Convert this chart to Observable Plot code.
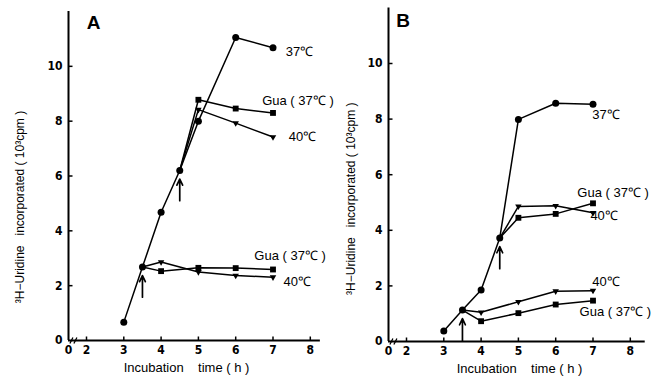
<!DOCTYPE html>
<html><head><meta charset="utf-8">
<script src="https://cdn.jsdelivr.net/npm/d3@7"></script>
<script src="https://cdn.jsdelivr.net/npm/@observablehq/plot@0.6"></script>
<style>
body{margin:0;background:#fff;}
#wrap{display:flex;width:657px;height:381px;overflow:hidden;background:#fff;}
#wrap svg{flex:none;overflow:visible;}
</style></head><body><div id="wrap"></div>
<script>
// shared categories / ticks
const hours = [3, 3.5, 4, 4.5, 5, 6, 7];
const upperHours = [4.5, 5, 6, 7];
const lowerHours = [3.5, 4, 5, 6, 7];
const arrowHours = [3.5, 4.5];
const xTicks = [0, 2, 3, 4, 5, 6, 7, 8];
const yTicks = [0, 2, 4, 6, 8, 10];
const xTitle = "Incubation\u00a0\u00a0\u00a0\u00a0time ( h )";
const yTitle = "\u00b3H\u2212Uridine\u00a0\u00a0\u00a0incorporated ( 10\u00b3cpm )";

// Panel A values (10^3 cpm)
const a37 = [0.67, 2.68, 4.68, 6.2, 8.0, 11.05, 10.68];
const aGuaUpper = [6.2, 8.78, 8.46, 8.30];
const a40Upper = [6.2, 8.42, 7.93, 7.42];
const aGuaLower = [2.68, 2.53, 2.65, 2.64, 2.59];
const a40Lower = [2.68, 2.86, 2.5, 2.37, 2.31];
const aLabelText = ["37\u2103", "Gua ( 37\u2103 )", "40\u2103", "Gua ( 37\u2103 )", "40\u2103"];
const aLabelX = [7.34, 6.71, 7.42, 6.5, 7.28];
const aLabelY = [10.52, 8.76, 7.42, 3.1, 2.15];

// Panel B values (10^3 cpm)
const b37 = [0.38, 1.13, 1.85, 3.72, 7.99, 8.57, 8.53];
const bGuaUpper = [3.72, 4.45, 4.59, 4.97];
const b40Upper = [3.72, 4.86, 4.88, 4.63];
const bGuaLower = [1.13, 0.73, 1.02, 1.33, 1.47];
const b40Lower = [1.13, 1.05, 1.43, 1.81, 1.83];
const bLabelText = ["37\u2103", "Gua ( 37\u2103 )", "40\u2103", "40\u2103", "Gua ( 37\u2103 )"];
const bLabelX = [6.98, 6.58, 6.93, 6.98, 6.64];
const bLabelY = [8.17, 5.36, 4.53, 2.16, 1.08];

const tickRight = {draw(ctx) { ctx.moveTo(0, 0); ctx.lineTo(4, 0); }};
const tickUp = {draw(ctx) { ctx.moveTo(0, 0); ctx.lineTo(0, -4); }};
const breakMark = {draw(ctx) { ctx.moveTo(-4, 3); ctx.lineTo(-1, -3); ctx.moveTo(0, 3); ctx.lineTo(3, -3); }};
const txtFont = "'Liberation Sans', Arial, sans-serif";
const tickFont = "'DejaVu Sans Condensed', 'DejaVu Sans', sans-serif";

function pts(xs, ys) { return xs.map((x, i) => ({x, y: ys[i]})); }

function panel(o) {
  const s37 = pts(hours, o.c37);
  const gU = pts(upperHours, o.guaU), fU = pts(upperHours, o.fortyU);
  const gL = pts(lowerHours, o.guaL), fL = pts(lowerHours, o.fortyL);
  const squares = [...gU.slice(1), ...gL.slice(1)];
  const tris = [...fU.slice(1), ...fL.slice(1)];
  const arrows = arrowHours.map(h => ({x: h, y: o.c37[hours.indexOf(h)]}));
  const labels = o.labelText.map((t, i) => ({t, x: o.labelX[i], y: o.labelY[i]}));
  const line = {x: "x", y: "y", stroke: "black", strokeWidth: 1.5};
  const tickText = {fontFamily: tickFont, fontWeight: "bold", fontSize: 12, fontStretch: "condensed", fill: "black"};
  return Plot.plot({
    width: o.width, height: 381,
    marginLeft: 68, marginRight: o.width - 321, marginTop: o.yTop, marginBottom: 381 - o.y0,
    style: {fontFamily: txtFont, fontSize: "12px", background: "transparent", color: "black", overflow: "visible"},
    x: {type: "linear", domain: [0, 2, 8.5], range: [68, 86, 328.45]},
    y: {domain: [0, 12], range: [o.y0, o.yTop]},
    marks: [
      Plot.ruleX([0], {x: d => d, y1: 0, y2: 12, strokeWidth: 2}),
      Plot.ruleY([0], {y: d => d, x1: 0, x2: o.axisEnd, strokeWidth: 2}),
      Plot.dot(yTicks.filter(d => d > 0), {x: () => 0, y: d => d, symbol: tickRight, stroke: "black", fill: "none", strokeWidth: 1.5}),
      Plot.dot(xTicks.filter(d => d > 0), {x: d => d, y: () => 0, symbol: tickUp, stroke: "black", fill: "none", strokeWidth: 1.5}),
      Plot.axisY({ticks: yTicks, tickSize: 0, tickPadding: 6, tickFormat: d => String(d), label: null, ...tickText}),
      Plot.axisX({ticks: xTicks, tickSize: 0, tickPadding: 5, tickFormat: d => String(d), label: null, ...tickText}),
      Plot.dot([0], {x: () => 0.6, y: () => 0, symbol: breakMark, stroke: "black", fill: "none", strokeWidth: 1.3}),
      Plot.line(s37, line),
      Plot.line(gU, line), Plot.line(fU, line),
      Plot.line(gL, line), Plot.line(fL, line),
      Plot.dot(s37, {x: "x", y: "y", r: 3.5, fill: "black", symbol: "circle"}),
      Plot.dot(squares, {x: "x", y: "y", r: 3.3, fill: "black", symbol: "square"}),
      Plot.dot(tris, {x: "x", y: "y", r: 2.4, fill: "black", symbol: "triangle", rotate: 180}),
      Plot.arrow(arrows, {x1: "x", x2: "x", y1: d => d.y - 1.1, y2: "y", insetEnd: 8.5, headLength: 6, headAngle: 50, strokeWidth: 1.7, stroke: "black"}),
      Plot.text(labels, {x: "x", y: "y", text: "t", textAnchor: "start", fontSize: 13, fontFamily: txtFont, fill: "black"}),
      Plot.text([o.title], {frameAnchor: "top-left", dx: o.titleDx, dy: o.titleDy, text: d => d, textAnchor: "middle", fontSize: 19, fontWeight: "bold", fontFamily: txtFont}),
      Plot.text([yTitle], {frameAnchor: "left", dx: o.yLabelDx, dy: o.yLabelDy, rotate: -90, text: d => d, textAnchor: "middle", fontSize: 12, fontFamily: txtFont}),
      Plot.text([xTitle], {frameAnchor: "bottom-left", dx: o.xLabelCx - 68, dy: 31, text: d => d, textAnchor: "middle", fontSize: 13, fontFamily: txtFont})
    ]
  });
}

const wrap = document.getElementById("wrap");
wrap.appendChild(panel({
  title: "A", c37: a37, guaU: aGuaUpper, fortyU: a40Upper, guaL: aGuaLower, fortyL: a40Lower,
  labelText: aLabelText, labelX: aLabelX, labelY: aLabelY,
  width: 320, y0: 340, yTop: 11, axisEnd: 8.27,
  titleDx: 25, titleDy: 4, yLabelDx: -48, yLabelDy: 31, xLabelCx: 186
}));
wrap.appendChild(panel({
  title: "B", c37: b37, guaU: bGuaUpper, fortyU: b40Upper, guaL: bGuaLower, fortyL: b40Lower,
  labelText: bLabelText, labelX: bLabelX, labelY: bLabelY,
  width: 337, y0: 341, yTop: 7.4, axisEnd: 8.4,
  titleDx: 14.5, titleDy: 6, yLabelDx: -37, yLabelDy: 24, xLabelCx: 199
}));
</script></body></html>
